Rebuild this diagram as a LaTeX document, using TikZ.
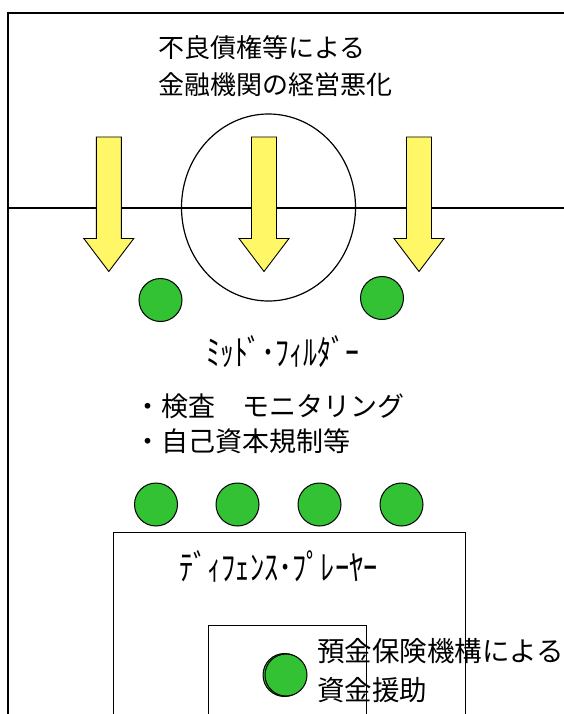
\documentclass[tikz,border=0pt]{standalone}
\usepackage{graphicx}
\usepackage{fontspec}
\newfontfamily\jp{Noto Sans CJK JP}
\begin{document}
\begin{tikzpicture}[x=1pt,y=-1pt,
  frame/.style={line width=1.2pt,black},
  yarrow/.style={draw=black,line width=0.9pt,fill=yellow!60!white},
  player/.style={circle,draw=black,line width=1pt,fill=green!70!black!80,minimum size=43pt,inner sep=0pt},
  txt/.style={font=\jp\fontsize{26}{30}\selectfont,inner sep=0pt,anchor=west},
  htxt/.style={font=\jp\fontsize{27}{30}\selectfont,inner sep=0pt,anchor=west}]
\useasboundingbox (0,0) rectangle (564,714);
\fill[white] (0,0) rectangle (564,714);
% outer frame and halfway line
\draw[frame] (8,714) -- (8,13) -- (564,13);
\draw[frame] (8,208) -- (564,208);
\draw[frame] (268.5,207.5) ellipse [x radius=87, y radius=93.5];
% arrows
\foreach \cx/\nm in {108.8/a1,264/a2,419/a3}{
  \draw[yarrow] (\cx-12.5,137) -- (\cx+12.5,137) -- (\cx+12.5,238.5) -- (\cx+25,238.5)
    -- (\cx,271.5) -- (\cx-25,238.5) -- (\cx-12.5,238.5) -- cycle;
}
% top text
\node[txt] (t1) at (158,47.5) {不良債権等による};
\node[txt] (t2) at (158,85) {金融機関の経営悪化};
% midfielders
\node[player] (m1) at (160.5,300) {};
\node[player] (m2) at (382,298) {};
\node[htxt] (mf) at (206,351.5) {\scalebox{1.03}[1.3]{ﾐｯﾄﾞ･ﾌｨﾙﾀﾞｰ}};
\node[txt,font=\jp\fontsize{27}{30}\selectfont] (l1) at (134,406) {・検査　モニタリング};
\node[txt,font=\jp\fontsize{27}{30}\selectfont] (l2) at (134,441.5) {・自己資本規制等};
% defenders
\node[player] (d1) at (156,504.5) {};
\node[player] (d2) at (237.5,504.5) {};
\node[player] (d3) at (319.5,504.5) {};
\node[player] (d4) at (401.5,504.5) {};
\draw[frame] (113.3,714) -- (113.3,532.3) -- (465.7,532.3) -- (465.7,714);
\node[htxt] (df) at (179,566.5) {\scalebox{1.05}[1.3]{ﾃﾞｨﾌｪﾝｽ･ﾌﾟﾚｰﾔｰ}};
% goal keeper area
\draw[frame] (208.3,714) -- (208.3,625.3) -- (366.7,625.3) -- (366.7,714);
\node[player,minimum size=43pt] (gk0) at (284.5,675) {};
\node[player,minimum size=42pt] (gk) at (286,675) {};
\node[txt,font=\jp\fontsize{27.5}{30}\selectfont] (g1) at (317,651.5) {預金保険機構による};
\node[txt,font=\jp\fontsize{27.5}{30}\selectfont] (g2) at (317,690) {資金援助};
\end{tikzpicture}
\end{document}
